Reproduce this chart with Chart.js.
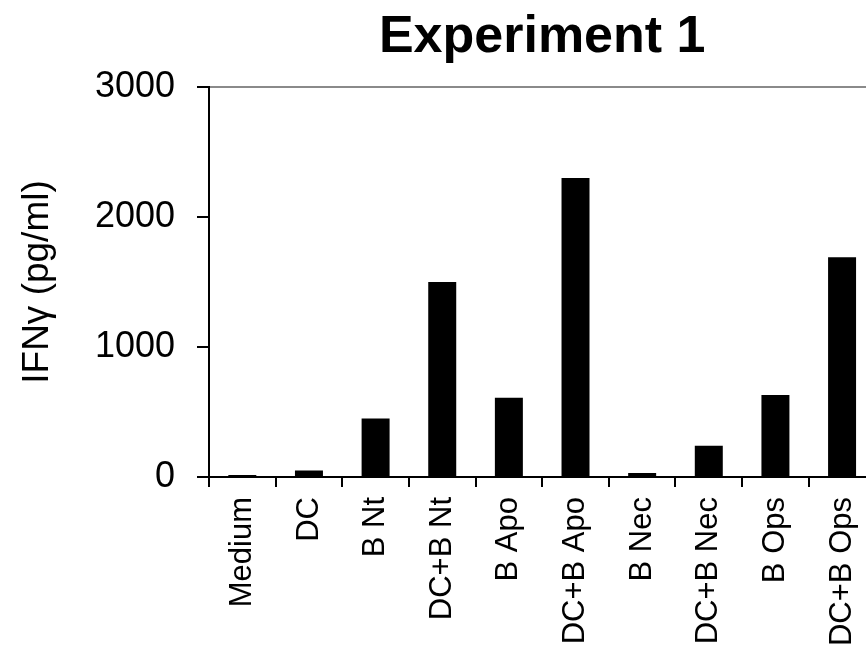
<!DOCTYPE html>
<html>
<head>
<meta charset="utf-8">
<script src="https://cdn.jsdelivr.net/npm/chart.js@4.4.0/dist/chart.umd.min.js"></script>
<style>
    html, body { margin: 0; padding: 0; background: #fff; overflow: hidden; }
    .chart-container { position: relative; width: 890px; height: 654px; }
</style>
</head>
<body>
<div class="chart-container">
    <canvas id="ifnChart"></canvas>
</div>
<script>
const categories = ['Medium', 'DC', 'B Nt', 'DC+B Nt', 'B Apo', 'DC+B Apo', 'B Nec', 'DC+B Nec', 'B Ops', 'DC+B Ops'];
const ifnValues = [15, 50, 450, 1500, 610, 2300, 30, 240, 630, 1690];
const yTicks = [0, 1000, 2000, 3000];

const FONT = "'Liberation Sans', Arial, sans-serif";

class ExperimentChart {
    constructor() {
        this.ctx = document.getElementById('ifnChart');
        if (!this.ctx) return;
        this.chart = null;
        this.renderChart();
    }

    renderChart() {
        this.chart = new Chart(this.ctx, {
            type: 'bar',
            data: {
                labels: categories,
                datasets: [{
                    label: 'IFNγ',
                    data: ifnValues,
                    backgroundColor: '#000',
                    borderWidth: 0,
                    categoryPercentage: 1,
                    barPercentage: 0.42
                }]
            },
            options: this.getChartOptions()
        });
    }

    getChartOptions() {
        const yMax = yTicks[yTicks.length - 1];
        return {
            responsive: true,
            maintainAspectRatio: false,
            animation: false,
            layout: { padding: { left: 0, right: 13, top: 0, bottom: 0 } },
            plugins: {
                legend: { display: false },
                tooltip: { enabled: false },
                title: {
                    display: true,
                    text: 'Experiment 1',
                    fullSize: false,
                    color: '#000',
                    font: { family: FONT, size: 52, weight: 'bold', lineHeight: 1.2 },
                    padding: { top: 6, bottom: 18.6 }
                }
            },
            scales: {
                x: {
                    offset: true,
                    grid: {
                        display: true,
                        offset: true,
                        drawOnChartArea: false,
                        color: '#000',
                        tickColor: '#000',
                        tickLength: 10,
                        lineWidth: 2
                    },
                    border: { color: '#000', width: 2 },
                    ticks: {
                        autoSkip: false,
                        minRotation: 90,
                        maxRotation: 90,
                        padding: 10,
                        color: '#000',
                        font: { family: FONT, size: 31 }
                    },
                    afterFit: (scale) => { scale.height = 177; }
                },
                y: {
                    min: 0,
                    max: yMax,
                    afterBuildTicks: (scale) => {
                        scale.ticks = yTicks.map(v => ({ value: v }));
                    },
                    grid: {
                        color: (c) => (c.tick && c.tick.value === yMax) ? '#8a8a8a' : 'rgba(0,0,0,0)',
                        lineWidth: 2,
                        tickColor: '#000',
                        tickLength: 12,
                        tickWidth: 2
                    },
                    border: { color: '#000', width: 2 },
                    ticks: {
                        padding: 22,
                        color: '#000',
                        font: { family: FONT, size: 36 },
                        callback: (value) => String(value)
                    },
                    title: {
                        display: true,
                        text: 'IFNγ (pg/ml)',
                        color: '#000',
                        font: { family: FONT, size: 37, lineHeight: 1.2 },
                        padding: { top: 16, bottom: 0 }
                    },
                    afterFit: (scale) => { scale.width = 209; }
                }
            }
        };
    }
}

document.addEventListener('DOMContentLoaded', () => new ExperimentChart());
</script>
</body>
</html>
